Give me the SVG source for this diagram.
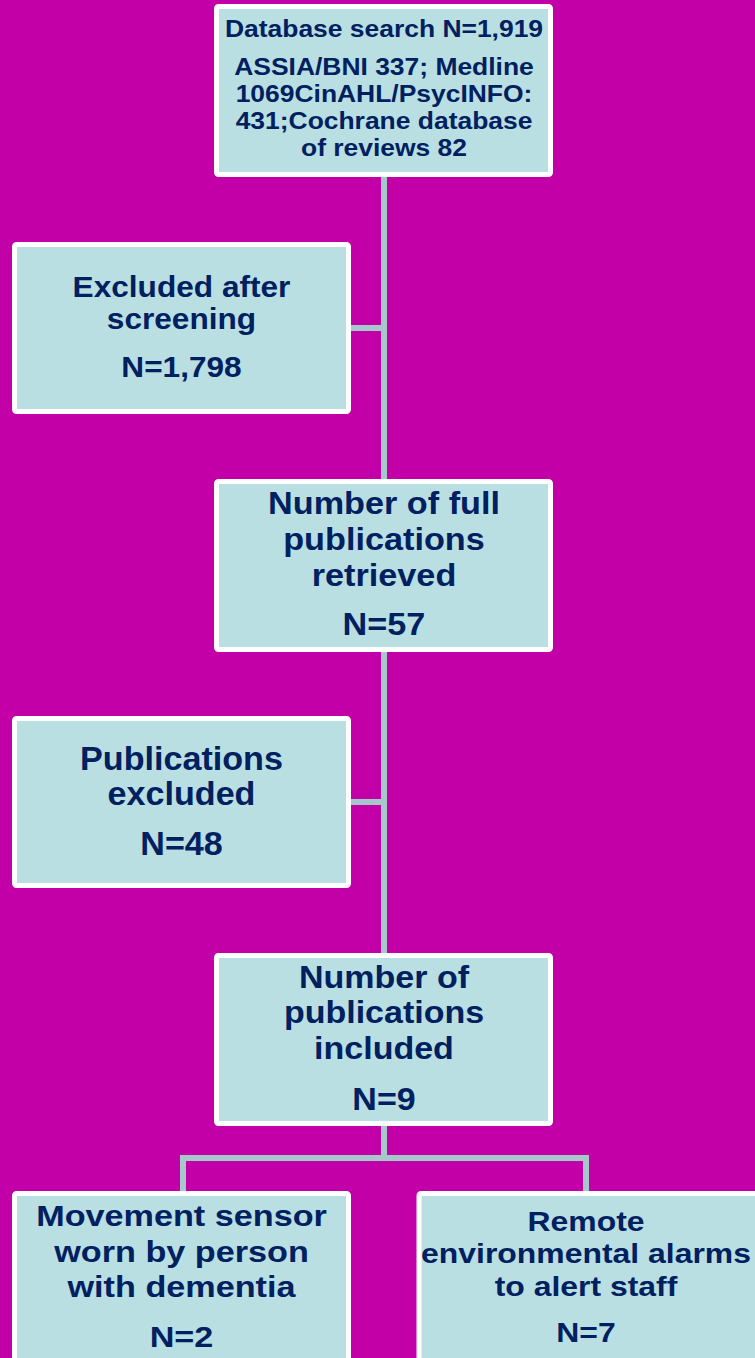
<svg xmlns="http://www.w3.org/2000/svg" width="755" height="1358" viewBox="0 0 755 1358">
<style>
.box{fill:#B9DFE3;stroke:#FFFFFF;stroke-width:5}
.t{font-family:"Liberation Sans",Arial,sans-serif;font-weight:bold;fill:#002060;text-anchor:middle}
.c{stroke:#A6C8CA;stroke-width:6;fill:none}
</style>
<rect x="0" y="0" width="755" height="1358" fill="#C300A8"/>
<g id="connectors">
<line class="c" x1="384" y1="177" x2="384" y2="479"/>
<line class="c" x1="384" y1="652" x2="384" y2="953"/>
<line class="c" x1="384" y1="1126" x2="384" y2="1158"/>
<line class="c" x1="351" y1="328" x2="384" y2="328"/>
<line class="c" x1="351" y1="802" x2="384" y2="802"/>
<polyline class="c" points="183,1191 183,1158 586,1158 586,1191"/>
</g>
<g id="database-search">
<rect class="box" x="216.5" y="6.5" width="334" height="168" rx="2"/>
<g transform="translate(384,0) scale(1.15,1)">
<text class="t" x="0" y="37" font-size="23">Database search N=1,919</text>
<text class="t" x="0" y="75" font-size="23">ASSIA/BNI 337; Medline</text>
<text class="t" x="0" y="102" font-size="23">1069CinAHL/PsycINFO:</text>
<text class="t" x="0" y="129" font-size="23">431;Cochrane database</text>
<text class="t" x="0" y="156" font-size="23">of reviews 82</text>
</g>
</g>
<g id="excluded-screening">
<rect class="box" x="14.5" y="244.5" width="334" height="167" rx="2"/>
<g transform="translate(181.5,0) scale(1.09,1)">
<text class="t" x="0" y="297" font-size="29">Excluded after</text>
<text class="t" x="0" y="329" font-size="29">screening</text>
<text class="t" x="0" y="377" font-size="29">N=1,798</text>
</g>
</g>
<g id="full-publications">
<rect class="box" x="216.5" y="481.5" width="334" height="168" rx="2"/>
<g transform="translate(384,0) scale(1.07,1)">
<text class="t" x="0" y="514" font-size="32">Number of full</text>
<text class="t" x="0" y="550" font-size="32">publications</text>
<text class="t" x="0" y="586.5" font-size="32">retrieved</text>
<text class="t" x="0" y="635.5" font-size="32">N=57</text>
</g>
</g>
<g id="publications-excluded">
<rect class="box" x="14.5" y="718.5" width="334" height="167" rx="2"/>
<g transform="translate(181.5,0) scale(1.05,1)">
<text class="t" x="0" y="770" font-size="32.5">Publications</text>
<text class="t" x="0" y="805" font-size="32.5">excluded</text>
<text class="t" x="0" y="855" font-size="32.5">N=48</text>
</g>
</g>
<g id="publications-included">
<rect class="box" x="216.5" y="955.5" width="334" height="168" rx="2"/>
<g transform="translate(384,0) scale(1.08,1)">
<text class="t" x="0" y="988" font-size="31.5">Number of</text>
<text class="t" x="0" y="1023" font-size="31.5">publications</text>
<text class="t" x="0" y="1059" font-size="31.5">included</text>
<text class="t" x="0" y="1110" font-size="31.5">N=9</text>
</g>
</g>
<g id="movement-sensor">
<rect class="box" x="14.5" y="1193.5" width="334" height="220" rx="2"/>
<g transform="translate(181.5,0) scale(1.14,1)">
<text class="t" x="0" y="1226" font-size="30">Movement sensor</text>
<text class="t" x="0" y="1262" font-size="30">worn by person</text>
<text class="t" x="0" y="1297" font-size="30">with dementia</text>
<text class="t" x="0" y="1347" font-size="30">N=2</text>
</g>
</g>
<g id="remote-alarms">
<rect class="box" x="419" y="1193.5" width="360" height="220" rx="2"/>
<g transform="translate(586,0) scale(1.12,1)">
<text class="t" x="0" y="1231" font-size="28.5">Remote</text>
<text class="t" x="0" y="1263" font-size="28.5">environmental alarms</text>
<text class="t" x="0" y="1296" font-size="28.5">to alert staff</text>
<text class="t" x="0" y="1342" font-size="28.5">N=7</text>
</g>
</g>
</svg>
